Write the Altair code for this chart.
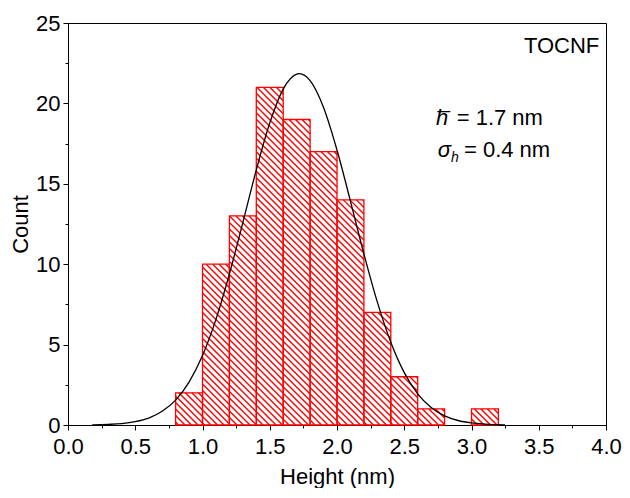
import altair as alt
import pandas as pd

# ---- data ----
bin_start = [0.8, 1.0, 1.2, 1.4, 1.6, 1.8, 2.0, 2.2, 2.4, 2.6, 3.0]
bin_end   = [1.0, 1.2, 1.4, 1.6, 1.8, 2.0, 2.2, 2.4, 2.6, 2.8, 3.2]
counts    = [2, 10, 13, 21, 19, 17, 14, 7, 3, 1, 1]

curve_x = [0.18, 0.3, 0.4, 0.5, 0.6, 0.7, 0.8, 0.9, 1.0, 1.1, 1.2, 1.3, 1.4, 1.5,
           1.6, 1.7, 1.72, 1.8, 1.9, 2.0, 2.1, 2.2, 2.3, 2.4, 2.5, 2.6, 2.7, 2.8,
           2.9, 3.0, 3.1, 3.25]
curve_y = [0.01, 0.04, 0.09, 0.21, 0.43, 0.85, 1.55, 2.67, 4.32, 6.57, 9.39, 12.59,
           15.87, 18.78, 20.89, 21.82, 21.85, 21.42, 19.75, 17.10, 13.92, 10.64, 7.64,
           5.15, 3.26, 1.94, 1.09, 0.57, 0.28, 0.13, 0.06, 0.01]

x_ticks = [0.0, 0.5, 1.0, 1.5, 2.0, 2.5, 3.0, 3.5, 4.0]
x_minor = [0.25, 0.75, 1.25, 1.75, 2.25, 2.75, 3.25, 3.75]
y_ticks = [0, 5, 10, 15, 20, 25]
y_minor = [2.5, 7.5, 12.5, 17.5, 22.5]

# ---- layout ----
W, H = 538, 402
XMAX, YMAX = 4.0, 25.0
FONT = "Liberation Sans"
FS = 22
RED = "#ff0000"
kx, ky = W / XMAX, H / YMAX  # px per data unit

bars = pd.DataFrame({"x0": bin_start, "x1": bin_end, "c": counts})
curve = pd.DataFrame({"x": curve_x, "y": curve_y})

# hatch segments (backslash pattern) clipped to each bar, computed from bar data
spacing = 6.5
segs = []
for x0, x1, c in zip(bin_start, bin_end, counts):
    X0, X1, Hc = x0 * kx, x1 * kx, c * ky
    k = int(X0 // spacing)
    while True:
        cc = k * spacing
        a = max(X0, cc - Hc)
        b = min(X1, cc)
        if a > X1:
            break
        if b > a:
            segs.append({"xa": a / kx, "ya": (cc - a) / ky,
                         "xb": b / kx, "yb": (cc - b) / ky})
        k += 1
hatch = pd.DataFrame(segs)

xs = alt.Scale(domain=[0, XMAX], nice=False, zero=False)
ys = alt.Scale(domain=[0, YMAX], nice=False)

axis_common = dict(labelFont=FONT, titleFont=FONT, labelFontSize=FS, titleFontSize=FS,
                   labelColor="black", titleColor="black", domainColor="black",
                   tickColor="black", grid=False, titleFontWeight="normal",
                   labelFlush=False, labelOverlap=False)

x_main = alt.Axis(values=x_ticks, format=".1f", title="Height (nm)", orient="bottom",
                  tickSize=5, labelPadding=6, titlePadding=9, **axis_common)
y_main = alt.Axis(values=y_ticks, title="Count", orient="left", tickSize=5,
                  labelPadding=3, titlePadding=3, **axis_common)

x_min_ax = alt.Axis(values=x_minor, labels=False, domain=False, title=None,
                    orient="bottom", tickSize=3, tickColor="black", grid=False)
y_min_ax = alt.Axis(values=y_minor, labels=False, domain=False, title=None,
                    orient="left", tickSize=3, tickColor="black", grid=False)

base_bars = alt.Chart(bars).mark_rect(fill="white", strokeWidth=0).encode(
    x=alt.X("x0:Q", scale=xs, axis=x_main),
    x2="x1:Q",
    y=alt.Y("c:Q", scale=ys, axis=y_main),
    y2=alt.Y2(datum=0),
)

hatch_layer = alt.Chart(hatch).mark_rule(strokeWidth=1.4).encode(
    x=alt.X("xa:Q", scale=xs, axis=x_min_ax),
    y=alt.Y("ya:Q", scale=ys, axis=y_min_ax),
    x2="xb:Q",
    y2="yb:Q",
    color=alt.value(RED),
)

outline = alt.Chart(bars).mark_rect(fillOpacity=0, strokeWidth=1.3).encode(
    x=alt.X("x0:Q", scale=xs, axis=None),
    x2="x1:Q",
    y=alt.Y("c:Q", scale=ys, axis=None),
    y2=alt.Y2(datum=0),
    stroke=alt.value(RED),
)

line = alt.Chart(curve).mark_line(color="black", strokeWidth=1.3, interpolate="monotone").encode(
    x=alt.X("x:Q", scale=xs, axis=None),
    y=alt.Y("y:Q", scale=ys, axis=None),
)

# annotations
ann_label = ["TOCNF"]
ann_x = [3.95]
ann_y = [23.58]
t1 = alt.Chart(pd.DataFrame({"x": ann_x, "y": ann_y, "t": ann_label})).mark_text(
    font=FONT, fontSize=FS, align="right", baseline="middle", color="black").encode(
    x=alt.X("x:Q", scale=xs, axis=None), y=alt.Y("y:Q", scale=ys, axis=None), text="t:N")

sym_text = ["h\u0305", "\u03c3"]
sym_x = [2.736, 2.749]
sym_y = [19.09, 17.1]
val_text = ["= 1.7 nm", "= 0.4 nm"]
val_x = [2.89, 2.944]
sub_text = ["h"]
sub_x = [2.848]
sub_y = [16.6]

syms = alt.Chart(pd.DataFrame({"x": sym_x, "y": sym_y, "t": sym_text})).mark_text(
    font=FONT, fontSize=FS, fontStyle="italic", align="left", baseline="middle", color="black").encode(
    x=alt.X("x:Q", scale=xs, axis=None), y=alt.Y("y:Q", scale=ys, axis=None), text="t:N")
vals = alt.Chart(pd.DataFrame({"x": val_x, "y": sym_y, "t": val_text})).mark_text(
    font=FONT, fontSize=FS, align="left", baseline="middle", color="black").encode(
    x=alt.X("x:Q", scale=xs, axis=None), y=alt.Y("y:Q", scale=ys, axis=None), text="t:N")
subs = alt.Chart(pd.DataFrame({"x": sub_x, "y": sub_y, "t": sub_text})).mark_text(
    font=FONT, fontSize=14, fontStyle="italic", align="left", baseline="middle", color="black").encode(
    x=alt.X("x:Q", scale=xs, axis=None), y=alt.Y("y:Q", scale=ys, axis=None), text="t:N")

chart = alt.layer(base_bars, hatch_layer, outline, line, t1, syms, vals, subs).resolve_axis(
    x="independent", y="independent"
).properties(
    width=W, height=H,
    autosize=alt.AutoSizeParams(type="none"),
    padding={"left": 60, "top": 15, "right": 16, "bottom": 63},
    background="white",
).configure_view(stroke="black", strokeWidth=1)

chart.save("out.html", embed_options={"renderer": "svg", "actions": False})
